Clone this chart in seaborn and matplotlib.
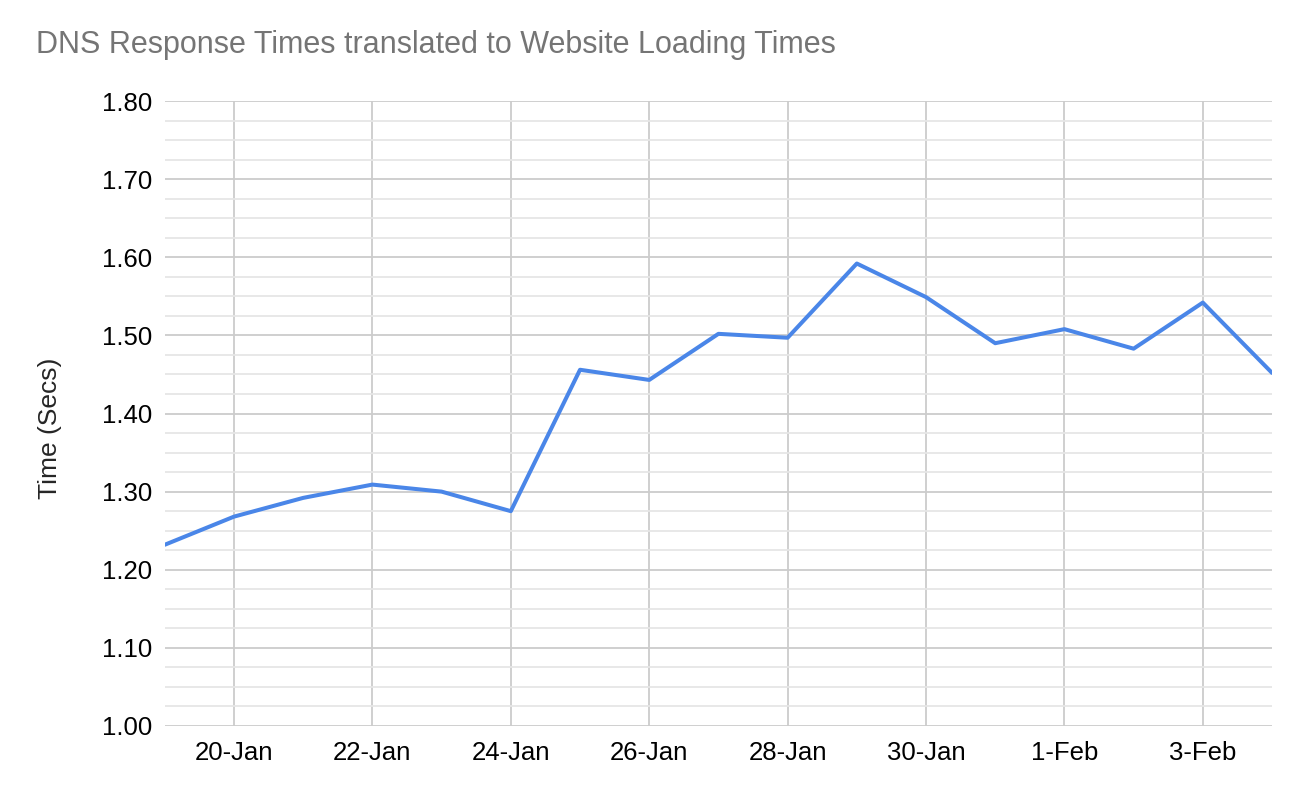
import numpy as np
import pandas as pd
import matplotlib
matplotlib.use("Agg")
import matplotlib.pyplot as plt
import matplotlib.dates as mdates
from matplotlib.ticker import MultipleLocator
import seaborn as sns

# values
dates = pd.date_range("2021-01-19", "2021-02-04", freq="D")
times = [1.232, 1.268, 1.292, 1.309, 1.300, 1.275, 1.456, 1.443, 1.502,
         1.497, 1.592, 1.549, 1.490, 1.508, 1.483, 1.542, 1.452]

df = pd.DataFrame({"date": dates, "time": times})

sns.set_style("white")
plt.rcParams['font.family'] = ['Liberation Sans', 'DejaVu Sans']

fig = plt.figure(figsize=(13.08, 8.02), dpi=100)
ax = fig.add_axes([0.126, 0.0948, 0.8465, 0.7792])

sns.lineplot(data=df, x="date", y="time", color="#4a86e8", linewidth=2.9, ax=ax)

ax.set_xlim(dates[0], dates[-1])
ax.set_ylim(1.0, 1.8)

ax.yaxis.set_major_locator(MultipleLocator(0.1))
ax.yaxis.set_minor_locator(MultipleLocator(0.025))
ax.yaxis.set_major_formatter(matplotlib.ticker.FormatStrFormatter("%.2f"))

ax.set_xticks(dates[1::2])
ax.xaxis.set_major_formatter(mdates.DateFormatter("%-d-%b"))

ax.grid(which="major", axis="both", color="#cccccc", linewidth=1.3)
ax.grid(which="minor", axis="y", color="#e6e6e6", linewidth=1.3)
ax.set_axisbelow(True)
for s in ax.spines.values():
    s.set_visible(False)
ax.tick_params(axis="both", which="both", length=0, labelsize=18.5, colors="#000000")
ax.tick_params(axis="x", pad=11)
ax.tick_params(axis="y", pad=9)

ax.set_xlabel("")
ax.set_ylabel("Time (Secs)", fontsize=19)
ax.yaxis.set_label_coords(-0.093, 0.477)

fig.text(0.0275, 1 - 45 / 802, "DNS Response Times translated to Website Loading Times",
         fontsize=22, color="#757575", va="center")

fig.savefig("out.png", dpi=100, facecolor="white")
